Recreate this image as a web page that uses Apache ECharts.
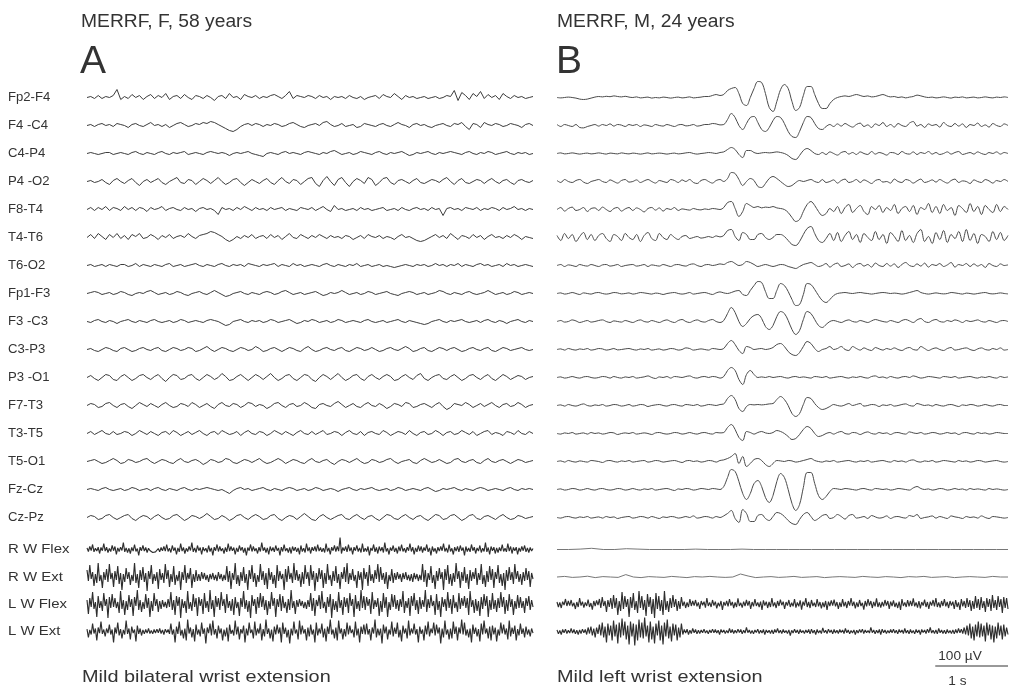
<!DOCTYPE html>
<html><head><meta charset="utf-8">
<script src="https://cdn.jsdelivr.net/npm/echarts@6/dist/echarts.min.js"></script>
<style>html,body{margin:0;padding:0;background:#fff}#c{width:1009px;height:685px}</style>
</head><body><div id="c"></div>
<script>
// ---------- labels ----------
const eegLabels = ['Fp2-F4','F4 -C4','C4-P4','P4 -O2','F8-T4','T4-T6','T6-O2','Fp1-F3','F3 -C3','C3-P3','P3 -O1','F7-T3','T3-T5','T5-O1','Fz-Cz','Cz-Pz'];
const emgLabels = ['R W Flex','R W Ext','L W Flex','L W Ext'];
const titleA = 'MERRF, F, 58 years', titleB = 'MERRF, M, 24 years';
const captionA = 'Mild bilateral wrist extension', captionB = 'Mild left wrist extension';
const scaleAmp = '100 µV', scaleTime = '1 s';
const DUR = 6.2;           // seconds shown in each panel
const UV_HALF = 150;       // half range of each trace (µV)

// ---------- Panel A, EEG (µV) ----------
const aFp2F4 = [0,5,-5,10,-5,5,0,10,40,-10, 5,-5,15,0,10,-10,5,15,-5,10, 0,20,-10,5,10,-5,15,0,-10,10, 5,-5,10,0,-15,5,10,-5,20,0, 5,-10,15,5,0,10,-5,5,0,10, 15,5,-5,10,30,-5,10,5,0,10, 5,-5,10,0,5,-10,5,0,5,-5, 10,0,-5,5,-10,0,5,10,-5,15, 5,0,20,5,-10,10,0,5,-5,0, 5,-5,0,5,-5,0,10,5,35,-15, 25,10,-10,20,5,30,-5,15,0,10, -10,20,5,-5,10,0,5,-5,0,5];
const aF4C4 = [0,5,-5,5,10,0,5,-5,10,5, 0,-10,5,10,0,-5,5,15,0,5, -5,5,-10,0,10,15,5,-5,0,10, 5,15,10,20,15,5,-5,-15,-25,-30, -20,-5,5,10,0,10,5,-5,5,0, 10,5,-5,0,10,15,5,-5,-10,0, 5,10,0,15,20,5,-5,0,10,-5, 0,5,-10,-5,10,5,0,-5,5,10, 0,-5,5,15,5,0,-10,5,10,0, 5,-5,-10,0,5,10,0,-5,10,5, 15,-5,-20,10,5,-10,15,5,0,10, 5,-5,0,10,5,0,-10,5,10,0];
const aC4P4 = [0,5,0,-5,0,5,5,-5,0,5, 0,-5,5,10,0,-5,5,0,-5,5, 10,0,-5,5,0,5,10,-5,0,5, 0,-5,5,10,5,0,5,0,-10,0, 5,0,5,10,0,-5,-10,-15,0,5, 0,-5,5,10,0,5,0,-5,5,10, 5,0,-5,5,0,10,15,5,-5,0, 5,-5,0,10,5,0,-5,5,10,0, -5,5,0,5,10,0,-10,-5,5,0, 5,10,0,-5,5,0,5,10,5,0, -5,5,10,0,-5,5,0,10,5,-5, 0,5,10,0,-5,5,0,5,-5,0];
const aP4O2 = [0,5,-5,0,10,-5,-15,5,15,0, -10,5,15,-5,-20,0,10,-5,5,15, -5,-15,0,10,20,-5,-10,10,5,-15, 0,15,5,-10,5,20,0,-15,-5,10, 15,-5,-20,-5,10,0,-10,5,15,-5, -15,5,20,0,-10,10,5,-15,0,15, 20,-10,-25,5,25,0,-20,10,20,-5, -25,0,15,5,-10,20,10,-20,-5,15, 20,-5,-15,5,10,0,-10,5,15,-5, -10,0,10,5,-5,10,20,0,-15,5, 15,-5,-10,0,10,5,-10,5,15,0, -10,5,10,-5,-15,5,10,0,-5,5];
const aF8T4 = [0,10,-5,10,0,15,-5,10,5,-5, 15,0,10,-5,10,5,-10,10,0,5, 15,-5,5,10,0,-5,10,0,5,-10, 5,10,0,5,-5,-25,10,0,5,-5, 10,0,15,5,-5,10,0,5,-5,10, 0,5,10,-5,5,0,-5,10,5,0, 10,-5,5,15,0,-10,20,0,5,-5, 0,5,-5,10,0,5,-5,0,5,10, -5,0,5,-5,10,0,-5,5,10,0, 5,-5,10,0,5,-30,5,10,0,5, -5,10,5,0,10,-5,5,0,10,5, -5,10,0,5,15,0,5,-5,5,0];
const aT4T6 = [0,15,-5,20,5,-10,15,0,20,-5, 10,-10,15,5,20,-5,0,15,5,-10, 10,0,15,-5,5,10,0,20,5,-5, 10,15,20,30,25,15,5,-10,-20,-10, 5,-5,10,0,15,-5,5,10,-5,15, 0,10,-10,5,20,0,-5,15,5,-5, 10,0,15,5,-5,10,0,5,-5,10, 5,-10,0,10,-5,15,5,0,10,-5, 5,0,-10,5,15,0,5,-5,-15,-20, -15,-5,5,15,0,10,-5,20,5,-10, 10,5,-5,15,0,10,-10,5,15,0, 5,-5,10,0,15,5,-10,5,0,-5];
const aT6O2 = [0,5,-5,0,5,-5,5,0,-5,5, 5,-5,0,10,-5,5,0,-5,5,0, -5,5,10,-5,0,5,-5,0,5,10, 0,-5,5,0,-5,5,10,0,-5,5, 0,5,-5,10,5,0,-5,5,0,5, 10,-5,5,0,-5,10,0,5,-5,0, 5,0,-5,5,10,0,-5,5,0,-5, 5,0,10,-5,0,5,-5,0,5,-5, 0,-5,-10,-5,0,5,0,-5,5,0, 5,-5,0,10,0,5,-5,5,0,10, -5,5,0,-5,5,10,0,5,-5,0, 5,-5,10,0,5,-5,0,5,0,-5];
const aFp1F3 = [0,5,10,5,-5,0,5,-5,0,10, 5,-5,-10,0,5,0,10,15,5,-5, 0,5,-5,0,10,5,-5,-10,0,5, 10,0,-5,5,15,5,-5,-15,-10,0, 5,10,0,-5,5,0,-5,5,10,5, -5,0,10,15,5,-5,0,5,-5,0, 5,10,0,-10,-5,5,0,5,15,5, -5,0,5,-5,0,10,5,-5,0,5, 10,0,-5,-10,0,5,10,5,-5,0, 5,-5,0,5,15,10,0,-5,5,0, -5,5,10,0,-5,0,5,15,5,-5, 0,5,-5,0,10,5,-5,0,5,0];
const aF3C3 = [0,-5,5,10,0,-5,5,0,-10,0, 5,10,0,-5,5,0,-5,5,10,0, -5,0,5,-5,0,10,5,-5,0,5, 0,-5,5,10,5,0,-10,-20,-15,0, 5,10,0,-5,5,0,5,-5,0,10, 5,-5,0,5,10,0,-10,-5,5,0, 10,5,-5,0,5,-5,0,10,5,-5, 0,5,0,-5,5,10,0,-5,0,5, -5,0,5,10,0,-5,5,0,-5,-10, -15,-10,0,5,10,0,-5,5,0,5, 10,0,-5,0,5,-5,5,10,0,-5, 5,0,-10,0,5,10,0,-5,5,0];
const aC3P3 = [0,5,-5,-10,0,10,5,-5,-10,5, 10,0,-10,-5,5,10,0,-5,5,10, -5,-10,0,10,5,-5,0,10,5,-10, -5,5,15,0,-10,0,10,5,-5,-10, 0,10,5,-5,0,15,5,-10,-5,5, 10,0,-10,0,10,5,-5,-10,5,15, 0,-10,-5,5,10,0,-5,5,10,-5, -10,0,10,5,-5,0,10,0,-10,-5, 5,10,0,-5,5,15,5,-10,-5,5, 10,-5,-10,0,10,5,-5,5,10,0, -10,-5,5,10,0,-5,5,10,-5,-10, 0,10,5,-5,0,5,10,0,-5,0];
const aP3O1 = [0,10,-5,-15,0,15,10,-10,-15,5, 15,0,-15,-5,10,15,0,-10,5,15, -5,-20,0,15,10,-10,-5,10,15,-5, -15,0,15,5,-10,0,20,5,-15,-10, 5,15,0,-15,0,15,5,-10,5,20, 0,-15,-5,10,15,-5,-15,0,15,10, -10,-20,0,15,5,-10,5,20,0,-15, -5,10,15,-5,-15,5,15,0,-10,5, 15,5,-15,-10,5,15,0,-10,10,20, -5,-15,0,10,15,-5,-10,5,15,0, -15,-5,10,15,0,-10,5,15,-5,-15, 0,15,5,-10,0,10,5,-10,0,5];
const aF7T3 = [0,10,5,-10,-5,10,15,0,-10,5, 10,-5,-15,0,15,5,-5,10,0,-10, 5,15,0,-10,-5,10,5,-5,15,5, -10,0,10,-5,-15,5,15,0,-5,10, 5,-10,0,15,10,-5,5,0,-15,-5, 10,15,0,-10,5,10,-5,0,15,5, -10,-15,5,10,0,-5,10,20,5,-10, 0,10,-5,-10,5,15,0,-5,10,0, -15,-5,10,5,-5,15,10,-10,-5,5, 10,0,-10,5,15,-5,-20,-10,10,5, 0,15,5,-10,0,10,-5,5,15,0, -10,5,10,-5,0,15,5,-10,0,5];
const aT3T5 = [0,10,-5,5,15,0,-5,10,-5,0, 10,5,-10,0,15,5,-5,10,0,-10, 5,10,-5,15,5,-10,0,10,-5,5, 15,0,-10,5,10,-5,15,5,-5,0, 10,-10,5,15,0,-5,10,5,-10,0, 15,5,-5,10,0,-10,5,15,0,-5, 10,-5,5,15,-5,0,10,5,-10,5, 15,0,-5,10,-10,5,10,0,-5,15, 5,-10,0,10,5,-5,15,0,-10,5, 10,-5,0,15,5,-10,5,10,-5,0, 15,5,-5,10,-10,0,10,15,-5,5, 0,-10,10,5,-5,15,0,-5,10,0];
const aT5O1 = [0,5,10,0,-10,-5,5,15,5,-10, -5,10,5,-5,0,10,15,0,-10,0, 10,5,-5,-10,5,15,0,-5,5,10, 0,-15,-5,10,5,-5,0,15,10,-5, -10,0,10,5,-5,5,15,0,-10,-5, 5,15,5,-10,0,10,5,-5,-10,5, 15,0,-5,5,10,-5,-15,0,10,5, -5,5,15,0,-10,-5,10,5,-5,0, 10,15,0,-10,0,5,10,-5,-10,5, 15,5,-5,0,10,0,-10,-5,10,15, 0,-5,5,10,-5,-10,5,15,0,-5, 5,10,0,-10,0,10,5,-5,0,5];
const aFzCz = [0,5,0,-5,5,10,0,-5,0,5, -5,0,10,5,-5,0,5,-5,5,10, 0,-5,5,0,-5,5,10,0,-5,5, 0,5,10,5,0,-5,0,-10,-20,-5, 5,10,0,5,-5,0,5,10,0,-5, 5,0,-5,5,10,5,-5,0,5,-5, 0,10,5,-5,0,5,0,-10,0,5, 10,0,-5,5,0,5,10,0,-5,0, 5,-5,0,10,5,-5,0,5,0,-5, 5,10,0,-10,-5,5,0,5,10,0, -5,5,0,-5,5,10,5,-5,0,5, 0,-5,5,10,0,-5,5,0,5,0];
const aCzPz = [0,10,5,-10,-5,10,15,0,-10,0, 10,15,-5,-15,0,10,5,-10,5,15, 0,-10,-5,10,15,0,-15,-5,10,5, -5,5,20,5,-10,-5,10,0,-15,-5, 10,15,0,-10,5,15,5,-10,-5,10, 15,-5,-15,0,10,5,-10,5,20,5, -10,-15,5,15,0,-10,0,10,15,-5, -10,5,15,0,-10,5,10,-5,-15,0, 15,10,-5,-10,5,15,0,-10,5,10, -5,-15,0,15,10,-10,-5,10,15,0, -15,-5,10,15,-5,-10,5,10,0,-10, 5,15,0,-10,-5,10,5,-5,0,5];

// ---------- Panel A, EMG (µV) ----------
const aRWFlex = [8,-10,15,-5,25,-12,6,-8,12,-20, 10,-6,30,-8,12,-15,5,-10,20,-6, 15,-25,8,-10,12,-5,35,-12,8,-15, 6,-20,10,-8,25,-10,5,-30,12,-6, 20,-8,10,-15,6,-5,-10,-15,-20,-12, -8,5,-12,10,-6,15,-8,25,-10,6, -15,20,-6,10,-25,8,-12,30,-8,10, -20,6,-10,15,-5,35,-12,8,-15,20, -6,10,-25,12,-8,6,-15,20,-10,8, -30,12,-6,25,-10,15,-8,6,-20,10, -12,30,-8,15,-6,10,-25,8,-12,20, -5,12,-15,8,-30,10,-6,25,-10,15, -8,6,-20,12,-10,35,-6,10,-15,8, -25,15,-8,10,-12,20,-6,8,-30,12, -10,25,-8,6,-15,10,-20,15,-6,12, -12,8,-25,20,-10,6,-15,30,-8,10, -20,12,-6,15,-10,25,-8,10,-12,6, -15,30,-10,8,-25,12,-6,20,-10,15, -8,60,-20,10,-6,15,-12,25,-8,10, -25,12,-6,20,-10,8,-15,30,-12,6, -10,15,-30,8,-6,25,-12,10,-20,15, -8,12,-15,35,-10,6,-25,10,-6,20, -12,8,-20,15,-8,25,-10,6,-15,12, -6,30,-10,12,-25,8,-12,20,-8,15, -15,10,-6,25,-12,8,-30,15,-10,6, -20,12,-8,15,-6,30,-10,8,-15,25, -10,6,-25,12,-8,15,-12,20,-6,10, -30,15,-10,8,-12,25,-6,12,-20,8, -8,20,-15,6,-10,35,-12,10,-25,15, -6,12,-20,8,-15,10,-8,25,-10,6, -12,30,-8,15,-20,10,-6,12,-25,8, -10,15,-6,20,-12,8,-15,10,-8,5];
const aRWExt = [35,-20,60,-10,25,-45,15,-30,70,-20, 10,-55,25,-15,40,-25,65,-10,20,-50, 30,-15,55,-35,20,-65,15,-25,45,-10, 25,-40,10,-20,70,-30,15,-55,35,-15, 50,-25,20,-70,30,-10,60,-35,15,-20, 25,-60,40,-15,20,-30,65,-10,35,-50, 15,-25,55,-40,10,-20,30,-65,25,-15, 60,-30,20,-10,45,-55,15,-25,35,-20, 15,-20,25,-10,20,-15,10,-25,15,-10, 20,-15,10,-20,25,-10,15,-20,10,-15, 55,-25,30,-60,20,-15,70,-35,10,-45, 25,-20,50,-30,15,-65,35,-10,60,-25, 20,-50,10,-25,65,-15,30,-40,20,-60, 45,-15,25,-35,10,-55,60,-20,30,-10, 15,-65,40,-25,55,-10,20,-30,70,-15, 35,-20,15,-50,25,-35,60,-10,25,-45, 60,-15,30,-70,20,-25,45,-10,35,-55, 20,-35,65,-15,10,-45,30,-20,55,-30, 15,-60,25,-10,50,-25,70,-35,20,-15, 40,-20,10,-55,30,-15,25,-65,45,-10, 25,-45,60,-20,15,-30,35,-10,65,-25, 50,-15,20,-35,25,-60,10,-20,40,-30, 20,-15,25,-10,15,-25,20,-10,25,-15, 10,-20,15,-25,20,-10,15,-20,10,-15, 65,-25,35,-50,20,-15,55,-30,10,-60, 30,-20,45,-10,25,-65,40,-15,60,-35, 15,-45,20,-25,70,-10,30,-55,25,-20, 50,-30,15,-60,35,-20,25,-10,45,-40, 20,-15,65,-35,10,-50,30,-25,55,-15, 40,-55,25,-10,60,-30,15,-45,20,-65, 35,-20,50,-15,25,-35,65,-10,30,-25, 15,-40,25,-20,45,-15,30,-50,20,-10];
const aLWFlex = [20,-50,30,-15,60,-25,10,-65,40,-20, 15,-35,55,-10,25,-70,35,-20,50,-15, 30,-20,10,-45,65,-25,20,-55,15,-30, 45,-15,25,-60,35,-10,70,-30,20,-40, 10,-25,50,-20,30,-65,15,-35,55,-10, 25,-40,15,-25,20,-15,10,-20,25,-15, 60,-30,20,-55,40,-10,35,-70,25,-20, 15,-45,65,-25,10,-35,50,-15,30,-60, 35,-10,25,-50,55,-20,15,-40,70,-25, 20,-65,40,-15,30,-30,60,-10,25,-45, 50,-20,15,-35,25,-55,35,-20,10,-60, 30,-15,65,-25,20,-40,15,-70,45,-10, 25,-50,35,-20,55,-15,40,-30,20,-55, 15,-25,60,-10,30,-65,25,-15,50,-35, 40,-20,10,-45,25,-30,70,-20,15,-50, 20,-15,25,-10,15,-20,10,-25,20,-15, 55,-35,30,-60,20,-10,45,-25,65,-20, 10,-45,35,-15,50,-70,25,-30,15,-40, 60,-20,20,-55,35,-15,30,-45,55,-10, 25,-65,45,-25,15,-35,70,-20,40,-30, 35,-10,25,-50,60,-25,20,-15,30,-60, 15,-40,55,-20,35,-65,10,-30,50,-15, 45,-25,20,-35,25,-15,65,-45,15,-20, 30,-60,40,-10,55,-30,20,-50,35,-25, 20,-15,70,-40,25,-20,45,-10,15,-55, 50,-30,15,-65,35,-15,25,-35,60,-20, 25,-50,45,-20,10,-40,55,-25,30,-10, 40,-20,30,-55,65,-15,20,-45,25,-35, 15,-60,35,-25,50,-10,40,-65,20,-30, 55,-25,20,-40,30,-20,60,-15,35,-50, 20,-35,50,-15,25,-55,15,-25,45,-20, 35,-20,15,-45,30,-10,40,-30,20,-15];
const aLWExt = [12,-30,8,-15,40,-10,15,-45,20,-8, 50,-12,10,-25,15,-8,35,-15,10,-55, 20,-10,45,-20,12,-35,8,-15,55,-12, 15,-40,25,-8,10,-50,30,-12,15,-20, 8,-12,10,-8,15,-10,5,-12,10,-8, 12,-6,15,-10,8,-15,12,-5,10,-12, 40,-15,10,-55,25,-12,50,-20,8,-35, 15,-45,60,-10,20,-30,12,-50,35,-15, 10,-25,45,-12,15,-60,20,-8,40,-20, 55,-15,12,-35,30,-10,15,-45,10,-25, 20,-50,35,-12,8,-20,55,-15,25,-40, 12,-10,30,-55,15,-20,45,-8,10,-35, 50,-20,15,-10,40,-45,12,-25,60,-12, 15,-35,10,-50,25,-15,35,-10,20,-55, 45,-12,20,-30,8,-60,15,-20,50,-10, 10,-40,55,-15,30,-10,12,-45,20,-25, 35,-15,10,-55,45,-20,15,-10,40,-30, 15,-50,25,-12,60,-15,10,-35,20,-45, 55,-10,15,-40,12,-25,45,-15,30,-8, 10,-30,50,-20,15,-55,25,-12,35,-15, 40,-15,12,-45,20,-10,60,-30,15,-20, 15,-60,35,-10,25,-40,10,-15,50,-25, 20,-12,45,-30,8,-50,30,-10,15,-35, 55,-20,15,-10,40,-15,12,-55,25,-12, 10,-45,30,-15,50,-25,15,-8,45,-20, 35,-10,20,-60,15,-30,55,-15,10,-40, 15,-35,50,-12,25,-45,20,-10,60,-15, 45,-20,10,-30,15,-55,35,-12,20,-25, 12,-50,40,-15,55,-10,15,-35,25,-45, 30,-15,20,-50,10,-20,45,-10,35,-15, 15,-40,55,-25,20,-12,30,-45,12,-20, 40,-12,15,-30,25,-15,10,-25,15,-8];

// ---------- Panel B, EEG (µV) ----------
const bFp2F4 = [0,-2,0,2,0,-3,-8,-10,-8,-3, 2,5,3,6,4,8,5,3,6,2, 0,3,-2,0,2,-3,0,-2,2,0, -3,0,2,-2,0,3,-2,0,2,5, 5,10,15,10,15,35,45,50,20,-30, -40,0,45,80,75,20,-50,-70,-20,40, 65,45,-20,-65,-50,10,55,55,15,-30, -55,-55,-30,-10,0,5,8,5,10,15, 10,5,8,3,5,10,15,8,3,5, 0,3,-2,2,5,12,8,3,0,2, -2,0,3,0,-3,2,0,3,-2,0, 2,-2,0,3,0,-2,2,0,3,0];
const bF4C4 = [5,-5,5,0,-5,5,-10,-12,-5,0, 5,-3,5,0,8,-3,5,2,-5,5, 0,5,-5,3,0,-5,5,0,-3,5, 0,-5,3,5,-2,0,5,-3,0,5, 5,10,8,3,5,30,60,40,0,-20, 10,40,45,15,-20,-30,-10,25,45,40, 10,-30,-55,-60,-30,15,45,40,10,-15, -20,-5,5,-5,8,-3,10,0,-8,5, 12,-5,3,-10,8,0,15,-5,5,-8, 10,0,-5,12,20,-3,5,-10,8,0, 5,-8,15,0,-5,10,-3,8,-10,5, 0,12,-5,3,-8,10,0,-5,8,0];
const bC4P4 = [0,3,-2,0,3,0,-3,0,2,-2, 0,3,0,-3,2,0,-2,3,0,-2, 2,0,-3,0,3,-2,0,2,0,-3, 0,2,-2,0,3,5,0,-3,0,2, 5,3,0,5,8,20,30,20,-5,-20, 15,15,5,0,3,5,3,5,8,5, 0,-10,-25,-30,-10,15,25,15,0,-5, 5,-5,8,0,-8,5,10,-3,5,-5, 8,0,-5,10,-3,5,0,-8,5,3, -5,10,0,-3,8,-5,5,0,10,-3, 5,-5,0,8,-3,5,10,-5,0,5, -3,8,0,-5,5,0,8,-3,5,0];
const bP4O2 = [5,-5,10,0,-5,5,10,-3,-10,0, 5,10,0,-5,8,0,-8,5,10,-3, 0,8,-5,3,10,0,-8,5,0,-5, 10,5,-5,8,0,10,-5,-10,5,10, 0,-8,5,10,0,15,45,40,10,-20, 0,15,5,-25,-30,-10,15,25,15,0, -15,-25,-20,-5,5,0,5,10,0,-5, 10,-5,0,8,-8,5,12,-5,0,10, -5,8,0,-10,5,10,-3,0,-8,12, 0,-5,10,5,-8,3,12,-5,0,8, -3,10,0,-8,5,12,-5,3,0,-10, 8,0,-5,10,3,-8,5,0,10,0];
const bF8T4 = [0,10,-8,5,12,-5,0,10,-10,5, 8,-5,12,0,-10,5,10,-8,3,10, -5,8,0,-12,5,10,-3,8,-8,5, 0,10,-5,3,0,-3,5,0,-2,3, 0,5,3,0,10,35,40,5,-35,-10, 30,20,10,15,8,12,10,15,8,5, 0,-15,-40,-60,-50,-10,25,40,20,-10, -30,-20,5,-10,15,-20,10,25,-15,5, 20,-10,-25,15,0,20,-15,10,-5,25, -20,5,15,-10,20,-25,10,0,30,-15, 15,-20,25,-5,10,-30,20,5,-15,30, -10,15,-25,20,0,-15,25,-10,15,0];
const bT4T6 = [10,-15,20,-5,15,-20,5,25,-10,15, -15,10,20,-5,-20,15,5,-15,20,0, -10,15,-20,10,25,-5,-15,20,0,-10, 15,0,-10,5,10,-5,0,5,-3,0, 5,0,8,3,10,35,40,5,-15,25, 15,-10,-10,15,20,0,-10,0,15,15, 5,-15,-35,-40,-20,15,45,55,20,-15, -25,-5,20,-15,25,-20,10,30,-10,15, -25,20,0,-15,30,-10,15,-30,25,5, -20,35,-15,10,-25,20,40,-20,5,-30, 25,-10,35,-25,15,-5,30,-20,40,-15, 20,-30,15,5,-20,30,-10,25,-15,10];
const bT6O2 = [0,5,-5,3,0,-5,5,0,-3,5, 0,-5,3,5,-3,0,5,-5,0,3, 5,-3,0,5,-5,3,0,-3,5,0, -5,3,5,0,-3,5,8,0,-5,3, 5,0,3,8,5,15,20,10,0,5, 20,15,5,-5,0,5,0,-5,0,5, 3,-5,-10,-15,-5,5,10,15,5,-5, 0,10,-8,5,12,-5,0,8,-10,5, 10,-3,5,-8,12,0,-5,10,-3,8, -10,5,15,0,-5,8,-3,12,-8,5, 0,10,-5,3,15,-8,5,0,10,-5, 8,-3,5,-10,10,0,-5,8,0,3];
const bFp1F3 = [0,3,-3,0,5,0,-5,3,0,-3, 3,5,0,-3,0,5,3,-2,0,3, -3,0,5,3,0,-3,2,0,-5,0, 3,5,0,-3,0,5,-3,0,3,5, 0,-5,3,8,3,0,5,12,15,-5, -10,15,40,60,55,10,-25,-25,15,50, 40,10,-30,-60,-55,-5,50,45,20,-10, -35,-45,-30,-10,0,3,5,2,0,3, 5,2,0,-3,0,3,5,3,0,2, 0,-3,0,5,10,15,5,0,-3,0, 3,0,-2,0,5,3,0,-3,2,0, -3,0,3,5,0,-2,0,3,0,-2];
const bF3C3 = [0,5,-3,0,8,3,-5,0,5,-3, 0,5,8,0,-5,3,0,-3,5,0, -5,3,8,0,-3,5,0,-5,3,8, 0,-5,5,10,0,-5,3,8,0,-3, 5,10,0,-5,5,40,70,45,0,-25, -10,15,30,35,15,-25,-40,-20,25,50, 40,5,-40,-65,-45,10,50,40,10,-20, -30,-15,0,5,0,-5,3,8,0,-3, 5,0,-5,3,10,5,0,-3,5,0, -5,5,10,3,-5,8,15,0,-5,5, 10,0,-3,5,0,8,3,-5,5,0, 3,8,0,-3,5,0,-5,3,5,0];
const bC3P3 = [0,3,-3,5,0,-3,3,0,5,-3, 0,5,3,-3,0,5,-2,0,3,5, 0,-3,3,0,5,-3,0,3,-3,0, 5,3,-3,0,8,5,-3,0,3,0, -3,5,3,0,5,30,45,25,-5,-20, 15,10,0,3,5,0,3,10,25,30, 15,-10,-25,-30,-15,15,40,30,5,-10, 0,5,15,0,5,15,0,-5,15,5, -3,8,0,-5,10,3,-3,5,0,8, 0,-5,5,10,0,-3,15,5,-5,3, 8,0,-5,5,10,-3,0,5,8,0, -5,3,8,0,-3,5,0,8,-3,0];
const bP3O1 = [0,3,-3,0,5,0,-3,3,5,0, -3,0,5,3,-3,5,0,-3,3,0, 5,-3,0,3,8,0,-5,3,0,5, -3,5,3,0,5,8,0,-3,3,5, 0,5,3,-3,5,35,50,35,-10,-35, 15,35,15,0,3,0,5,0,3,5, 0,-3,3,5,0,3,0,-3,5,3, 0,5,-3,0,3,5,0,-3,3,0, 5,0,-3,5,8,0,3,-3,5,0, -3,3,5,0,8,3,-3,0,5,3, 0,-3,5,3,0,5,-3,0,3,5, 0,-3,3,0,5,0,-3,5,0,3];
const bF7T3 = [0,3,-3,5,0,-3,3,8,0,-3, 3,0,5,-3,0,5,3,-3,0,5, -3,0,5,3,-5,0,3,5,0,-3, 3,5,0,-3,5,3,0,5,-3,0, 5,3,0,5,8,35,50,30,-15,-30, -5,5,3,5,3,5,8,10,30,45, 30,0,-40,-55,-40,5,40,35,10,-10, -20,-15,-5,5,0,-3,3,10,0,5, 10,-3,0,5,3,-5,3,0,5,-3, 0,5,8,0,-3,10,5,0,3,-3, 5,0,-3,3,5,0,-5,3,0,5, 3,-3,0,5,0,-3,3,5,0,0];
const bT3T5 = [0,-3,3,0,5,-3,0,3,-3,5, 0,3,-3,0,5,3,-5,0,3,0, 5,-3,0,3,0,-5,3,5,0,-3, 0,5,3,-3,0,5,0,-3,3,5, 0,-3,5,3,5,30,45,20,-20,-35, 10,5,-3,5,10,3,0,5,15,10, 0,-15,-30,-25,-5,20,35,25,0,-15, -10,0,5,-3,5,10,0,-3,5,3, -5,3,8,0,-3,5,0,3,-5,3, 5,0,-3,8,3,0,5,-3,0,5, 3,-3,0,5,0,3,-5,3,5,0, -3,5,0,3,-3,0,5,3,0,0];
const bT5O1 = [0,3,-3,5,0,-3,3,0,-3,5, 3,0,-5,3,5,0,-3,3,0,5, -3,0,3,5,-3,0,5,3,-3,0, 3,5,0,-5,3,5,0,3,-3,0, 5,3,-3,5,8,15,25,40,-10,25, -25,-10,10,15,5,-15,-25,-10,5,3, 0,5,3,-3,0,5,10,15,5,0, -3,3,0,5,-3,0,3,5,0,-3, 3,0,5,-3,0,3,5,0,-3,5, 0,3,-3,5,8,0,-3,3,0,5, -3,0,5,3,0,-3,5,0,3,-3, 0,5,3,-3,0,3,5,0,-3,0];
const bFzCz = [0,3,-3,0,5,3,-3,0,5,0, -3,3,5,0,-3,0,5,3,-3,0, 5,0,-3,3,0,5,-3,0,3,5, 0,-5,3,0,5,3,-3,0,5,3, 0,5,3,0,15,60,100,90,40,-20, -50,-20,30,45,15,-40,-65,-30,40,80, 60,0,-70,-105,-75,10,85,85,30,-30, -50,-35,-10,5,3,0,5,3,0,-3, 3,5,0,-3,5,3,0,3,-3,0, 5,3,0,-3,8,15,5,0,3,-3, 0,5,3,-3,0,5,0,3,-3,5, 0,3,0,-3,5,0,3,0,-3,0];
const bCzPz = [0,-3,3,5,0,-3,3,0,5,-3, 0,3,-3,5,0,3,-5,0,3,5, -3,0,5,3,-3,5,0,-5,3,0, 5,3,-3,0,5,0,8,-3,0,5, 3,-3,5,0,8,20,35,-5,-25,40, 20,-20,-20,10,15,-5,-15,5,25,20, 5,-15,-30,-35,-10,15,25,5,-15,-5, 10,15,-5,0,15,5,-8,10,15,-3, 0,5,-5,10,3,-3,0,8,-5,3, 5,0,-3,10,5,15,-5,0,3,8, -3,5,0,-5,8,3,0,-5,5,0, 3,-3,8,0,-5,5,3,0,-3,0];

// ---------- Panel B, EMG (µV) ----------
const bRWFlex = [0,0,2,6,0,0,4,2,0,0, 0,0,2,0,0,0,2,0,0,0, 0,0,0,0,0,0,0,0,0,0, 0,0,0,0,0,0,0,0,0,0];
const bRWExt = [0,3,-2,0,4,-3,2,0,-2,12, 0,-3,2,0,-2,3,0,-3,2,0, 3,0,-2,0,15,5,-3,0,2,-2, 0,3,-2,0,2,-3,0,2,0,-2, 3,0,-2,2,0,-3,2,0,3,-2, 0,2,-3,0,2,0,-2,3,0,0];
const bLWFlex = [10,-15,8,-20,12,-5,25,-10,15,-8, 20,-12,6,-25,10,-15,30,-8,12,-18, 8,-10,22,-15,5,-28,15,-10,18,-6, 25,-20,35,-10,15,-40,20,-15,30,-25, 45,-20,30,-55,15,-35,60,-25,40,-15, 25,-65,35,-20,55,-30,15,-45,65,-20, 40,-30,20,-60,50,-15,35,-50,25,-70, 55,-25,40,-35,20,-55,65,-30,15,-40, 30,-20,45,-15,25,-35,15,-25,35,-10, 12,-20,8,-15,25,-10,15,-8,20,-12, 8,-25,15,-6,12,-18,30,-10,8,-15, 20,-8,12,-22,6,-12,15,-30,10,-8, 15,-12,25,-8,10,-20,8,-15,28,-10, 6,-18,12,-10,20,-8,15,-25,10,-12, 25,-10,8,-15,12,-30,18,-8,12,-20, 10,-15,30,-12,8,-20,15,-10,22,-6, 12,-25,10,-8,20,-15,6,-12,25,-18, 8,-12,18,-28,12,-8,30,-15,10,-20, 20,-10,6,-15,25,-12,10,-22,8,-15, 15,-30,12,-10,18,-8,22,-12,10,-25, 8,-15,25,-12,10,-20,15,-8,30,-10, 12,-22,8,-15,20,-10,6,-28,15,-12, 25,-8,15,-20,10,-12,28,-15,8,-18, 10,-12,20,-8,15,-25,12,-10,18,-15, 6,-20,12,-30,25,-10,8,-15,20,-12, 15,-10,28,-12,8,-18,15,-22,10,-8, 22,-15,10,-25,12,-8,20,-12,30,-15, 8,-18,15,-10,25,-12,10,-20,15,-8, 12,-25,20,-15,8,-30,25,-12,15,-20, 30,-15,20,-35,15,-25,40,-20,25,-30, 35,-20,15,-40,30,-15,25,-35,45,-20, 20,-30,40,-15,25,-45,35,-20,30,-25];
const bLWExt = [8,-12,5,-15,10,-6,12,-10,6,-8, 15,-8,10,-12,6,-15,8,-10,12,-6, 10,-15,20,-10,25,-20,15,-30,20,-12, 35,-20,45,-30,25,-55,40,-20,30,-45, 55,-25,35,-60,45,-30,65,-20,50,-40, 30,-65,50,-25,40,-70,35,-45,60,-30, 45,-35,70,-25,30,-55,50,-40,25,-60, 40,-20,55,-45,30,-65,45,-25,60,-35, 25,-50,40,-20,35,-45,20,-30,40,-15, 10,-8,12,-15,6,-10,15,-6,10,-12, 6,-10,8,-6,12,-8,5,-12,8,-6, 12,-6,10,-8,6,-15,10,-5,8,-10, 5,-8,15,-6,10,-10,6,-8,12,-5, 10,-12,6,-8,20,-6,8,-10,5,-12, 8,-5,12,-10,6,-8,10,-15,8,-6, 6,-10,8,-12,10,-5,15,-8,6,-10, 10,-6,5,-10,8,-20,6,-8,12,-6, 8,-12,10,-6,5,-10,8,-6,10,-12, 12,-8,6,-15,10,-8,5,-10,18,-6, 6,-10,12,-5,8,-12,10,-8,6,-10, 10,-5,8,-10,15,-6,8,-12,5,-8, 8,-15,6,-8,10,-5,12,-10,8,-6, 5,-8,20,-6,8,-12,6,-8,10,-15, 12,-6,8,-10,5,-8,10,-6,12,-8, 6,-12,10,-5,8,-10,15,-8,6,-12, 10,-8,5,-12,10,-6,8,-15,10,-5, 8,-10,12,-6,20,-8,6,-10,8,-12, 15,-6,8,-10,6,-12,10,-8,5,-10, 8,-12,10,-8,15,-6,12,-10,20,-15, 30,-20,40,-35,25,-45,35,-25,50,-30, 40,-25,30,-50,45,-20,35,-40,30,-55, 25,-35,45,-20,30,-40,35,-25,20,-15];

const panelA = [aFp2F4,aF4C4,aC4P4,aP4O2,aF8T4,aT4T6,aT6O2,aFp1F3,aF3C3,aC3P3,aP3O1,aF7T3,aT3T5,aT5O1,aFzCz,aCzPz,aRWFlex,aRWExt,aLWFlex,aLWExt];
const panelB = [bFp2F4,bF4C4,bC4P4,bP4O2,bF8T4,bT4T6,bT6O2,bFp1F3,bF3C3,bC3P3,bP3O1,bF7T3,bT3T5,bT5O1,bFzCz,bCzPz,bRWFlex,bRWExt,bLWFlex,bLWExt];

// ---------- layout ----------
const FONT = "'Liberation Sans', Arial, Helvetica, sans-serif";
const rowY = [];
for (let i = 0; i < 16; i++) rowY.push(97.5 + 28 * i);
[549.5, 577, 604, 631.5].forEach(y => rowY.push(y));
const panels = [{left: 87, width: 446, traces: panelA, smooth: false}, {left: 557, width: 451, traces: panelB, smooth: true}];
const ROW_H = 60;
const faint = new Set([bRWFlex, bRWExt]);

const grid = [], xAxis = [], yAxis = [], series = [];
panels.forEach((p, pi) => {
  p.traces.forEach((arr, r) => {
    const k = grid.length;
    grid.push({left: p.left, width: p.width, top: rowY[r] - ROW_H / 2, height: ROW_H, containLabel: false});
    xAxis.push({type: 'value', gridIndex: k, min: 0, max: DUR, show: false});
    yAxis.push({type: 'value', gridIndex: k, min: -UV_HALF, max: UV_HALF, show: false});
    const dt = DUR / (arr.length - 1);
    const isEMG = r >= 16;
    let color = isEMG ? '#2e2e2e' : (pi === 0 ? '#3c3c3c' : '#4a4a4a');
    let width = isEMG ? 1.15 : 1;
    if (faint.has(arr)) { color = '#777777'; width = 1; }
    series.push({
      type: 'line', xAxisIndex: k, yAxisIndex: k,
      data: arr.map((v, i) => [i * dt, v]),
      showSymbol: false, symbol: 'none', clip: false,
      smooth: (p.smooth && !isEMG) ? 0.35 : false,
      lineStyle: {width: width, color: color},
      silent: true
    });
  });
});

const chart = echarts.init(document.getElementById('c'), null, {renderer: 'canvas'});
chart.setOption({animation: false, backgroundColor: '#ffffff', grid, xAxis, yAxis, series});

// ---------- texts & scale bar ----------
function txt(x, y, s, size, sx) {
  return {type: 'text', x: x, y: y, scaleX: sx || 1, silent: true,
    style: {text: s, fontSize: size, fontFamily: FONT, fill: '#333333',
      align: 'left', verticalAlign: 'middle', textAlign: 'left', textVerticalAlign: 'middle'}};
}
const g = [];
eegLabels.forEach((l, i) => g.push(txt(8, rowY[i], l, 12.5, 1.05)));
emgLabels.forEach((l, i) => g.push(txt(8, rowY[16 + i], l, 13, 1.15)));
g.push(txt(81, 22, titleA, 17.5, 1.1));
g.push(txt(557, 22, titleB, 17.5, 1.1));
g.push(txt(80, 62, 'A', 39, 1));
g.push(txt(556, 62, 'B', 39, 1));
g.push(txt(82, 677, captionA, 17, 1.17));
g.push(txt(557, 677, captionB, 17, 1.17));
const bIdx = 20; // first grid of panel B
const xEnd = chart.convertToPixel({xAxisIndex: bIdx}, DUR);
const xStart = chart.convertToPixel({xAxisIndex: bIdx}, DUR - 1);
g.push({type: 'line', silent: true, shape: {x1: xStart, y1: 666, x2: xEnd, y2: 666}, style: {stroke: '#333', lineWidth: 1}});
g.push(txt(xStart + 3, 656, scaleAmp, 13, 1.05));
g.push(txt(xStart + 13, 681, scaleTime, 13, 1.05));
chart.setOption({graphic: g});
</script></body></html>
